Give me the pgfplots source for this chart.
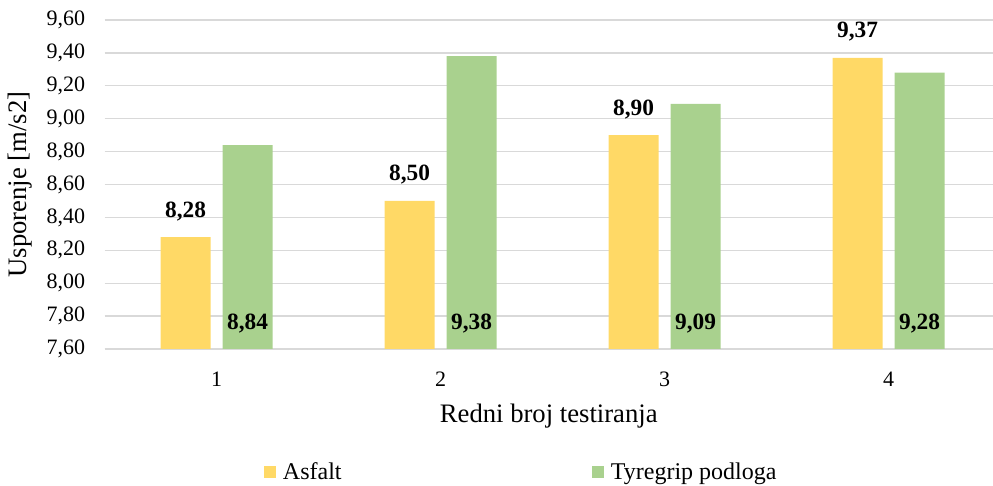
\documentclass[border=0pt]{standalone}
\usepackage{fontspec}
\setmainfont{Liberation Serif}
\usepackage{pgfplots}
\pgfplotsset{compat=1.18}

\definecolor{asfalt}{HTML}{FFD966}
\definecolor{tyre}{HTML}{A9D18E}
\definecolor{gridgrey}{HTML}{D9D9D9}

\newcommand{\tickfont}{\fontsize{16.5}{19}\selectfont}
\newcommand{\valfont}{\fontsize{17.5}{20}\selectfont}
\newcommand{\labfont}{\fontsize{20}{23}\selectfont}
\newcommand{\legfont}{\fontsize{18}{21}\selectfont}

\begin{document}
\begin{tikzpicture}
\begin{axis}[
    scale only axis,
    width=666.4pt, height=246.75pt,
    ybar=9pt, bar width=37.5pt,
    xmin=0.5, xmax=4.4665,
    ymin=7.6, ymax=9.6,
    xtick={1,2,3,4},
    ytick={7.6,7.8,8.0,8.2,8.4,8.6,8.8,9.0,9.2,9.4,9.6},
    axis x line*=bottom, axis y line*=left,
    x axis line style={draw=gridgrey, line width=1pt},
    y axis line style={draw=none},
    ymajorgrids=true,
    major grid style={draw=gridgrey, line width=1pt},
    major tick length=0pt,
    tick label style={font=\tickfont},
    /pgf/number format/assume math mode=true,
    yticklabel style={xshift=-11pt},
    yticklabel style={/pgf/number format/fixed, /pgf/number format/fixed zerofill,
        /pgf/number format/precision=2, /pgf/number format/use comma},
    xticklabel style={yshift=-14pt},
    xlabel={Redni broj testiranja},
    ylabel={Usporenje [m/s2]},
    label style={font=\labfont},
    xlabel style={yshift=-6pt},
    ylabel style={yshift=4pt},
    nodes near coords={\pgfmathprintnumber[fixed, fixed zerofill, precision=2, use comma, assume math mode=true]{\pgfplotspointmeta}},
    nodes near coords style={font=\valfont\bfseries, anchor=center},
    visualization depends on={y \as \rawy},
    legend columns=2,
    legend style={draw=none, fill=none, inner sep=0pt,
        at={(0.1795,-0.375)}, anchor=west,
        font=\legfont,
        nodes={inner sep=0pt},
        /tikz/every odd column/.append style={column sep=5pt},
        /tikz/every even column/.append style={column sep=188pt}},
    legend image code/.code={\fill[#1] (0pt,-4.5pt) rectangle (9pt,4.5pt);},
]
\addplot[fill=asfalt, draw=none, nodes near coords style={yshift=19.5pt}]
    coordinates {(1,8.28) (2,8.50) (3,8.90) (4,9.37)};
\addplot[fill=tyre, draw=none,
    nodes near coords style={yshift={-(\rawy-7.6)*123.375pt+18.75pt}}]
    coordinates {(1,8.84) (2,9.38) (3,9.09) (4,9.28)};
\legend{Asfalt, Tyregrip podloga}
\coordinate (sw) at (rel axis cs:0,0);
\end{axis}
\pgfresetboundingbox
\path[use as bounding box] ([shift={(-78.4pt,-102.75pt)}]sw) rectangle ([shift={(666.4pt,261.75pt)}]sw);
\end{tikzpicture}
\end{document}
